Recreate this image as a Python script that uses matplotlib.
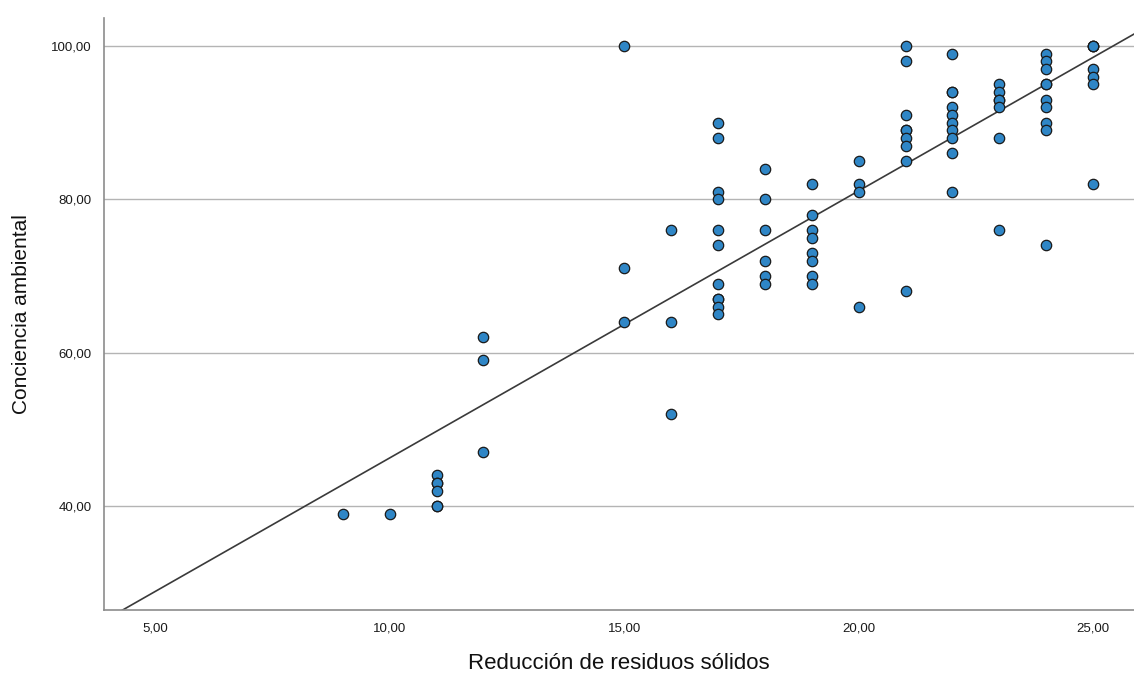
import numpy as np
import matplotlib
matplotlib.use("Agg")
import matplotlib.pyplot as plt

# Data: x value -> list of y values
x_levels = [9, 10, 11, 12, 15, 16, 17, 18, 19, 20, 21, 22, 23, 24, 25]
y_groups = [
    [39],
    [39],
    [44, 43, 43, 42, 40, 40],
    [62, 59, 47],
    [100, 71, 64],
    [76, 64, 52],
    [90, 88, 81, 80, 76, 74, 69, 67, 67, 66, 65],
    [84, 80, 76, 72, 70, 69],
    [82, 78, 76, 75, 73, 72, 70, 69],
    [85, 82, 81, 66],
    [100, 98, 91, 89, 89, 88, 87, 85, 68],
    [99, 94, 94, 92, 91, 90, 89, 88, 86, 81],
    [95, 94, 93, 93, 92, 88, 76],
    [99, 98, 97, 95, 95, 93, 92, 90, 89, 74],
    [100, 100, 100, 97, 96, 95, 82],
]
x_ticks = [5, 10, 15, 20, 25]
y_ticks = [40, 60, 80, 100]
x_label = "Reducción de residuos sólidos"
y_label = "Conciencia ambiental"

x = np.concatenate([[xv] * len(g) for xv, g in zip(x_levels, y_groups)]).astype(float)
y = np.concatenate(y_groups).astype(float)

plt.rcParams['font.family'] = ['Liberation Sans', 'DejaVu Sans']

fig = plt.figure(figsize=(11.34, 6.78), dpi=100)
ax = fig.add_axes([0.0917, 0.1003, 0.9083, 0.8732])

xmin, xmax = 3.91, 25.87
slope, intercept = np.polyfit(x, y, 1)
xl = np.array([xmin, xmax])
yl = intercept + slope * xl

ax.set_xlim(xmin, xmax)
ax.set_ylim(26.44, 103.65)

for yt in y_ticks:
    ax.axhline(yt, color='#b4b4b4', lw=1.0, zorder=1)

ax.plot(xl, yl, color='#3a3a3a', lw=1.2, zorder=2, clip_on=True)
ax.scatter(x, y, s=56, c='#2f86c6', edgecolors='#1a1a1a', linewidths=0.9, zorder=3)

ax.set_xticks(x_ticks)
ax.set_xticklabels([f"{v:.2f}".replace('.', ',') for v in x_ticks], fontsize=9.5, color='#1a1a1a')
ax.set_yticks(y_ticks)
ax.set_yticklabels([f"{v:.2f}".replace('.', ',') for v in y_ticks], fontsize=9.5, color='#1a1a1a')
ax.tick_params(length=0, pad=9)

for s in ['top', 'right']:
    ax.spines[s].set_visible(False)
for s in ['left', 'bottom']:
    ax.spines[s].set_color('#8c8c8c')
    ax.spines[s].set_linewidth(1.2)

ax.set_xlabel(x_label, fontsize=16, labelpad=13, color='#111111')
ax.set_ylabel(y_label, fontsize=15, labelpad=14, color='#111111')

fig.savefig("out.png", dpi=100)
